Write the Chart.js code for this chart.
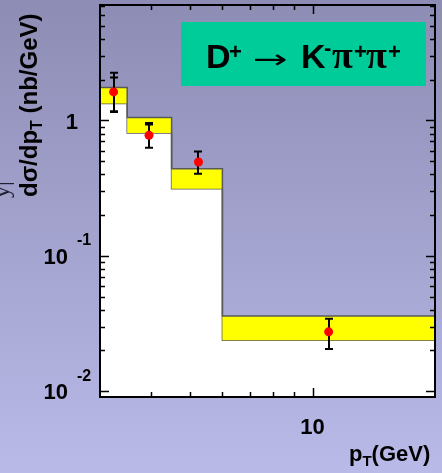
<!DOCTYPE html>
<html>
<head>
<meta charset="utf-8">
<script src="https://cdn.jsdelivr.net/npm/chart.js@4.4.0/dist/chart.umd.min.js"></script>
<style>
  html, body { margin: 0; padding: 0; }
  body { width: 442px; height: 473px; overflow: hidden; background: linear-gradient(#8c8cb4, #babae9); }
  canvas { display: block; }
</style>
</head>
<body>
<canvas id="chart" width="442" height="473"></canvas>
<script>
// pT bins (GeV) and theory band per bin (nb/GeV)
const binEdges = [3, 3.5, 4.5, 6, 20];
const theoryLow = [1.334, 0.808, 0.313, 0.0238];
const theoryHigh = [1.75, 1.05, 0.44, 0.036];

// measured points
const ptPoints = [3.24, 3.96, 5.24, 10.95];
const xsection = [1.626, 0.777, 0.493, 0.02745];
const statHigh = [2.08, 0.933, 0.591, 0.0343];
const statLow = [1.17, 0.63, 0.404, 0.0205];
const totHigh = [2.25, 0.958, 0.591, 0.0343];
const totLow = [1.156, 0.63, 0.404, 0.0205];

// axis labels
const yTickValues = [0.01, 0.1, 1];
const yTickBase = ['10', '10', '1'];
const yTickExp = ['-2', '-1', ''];
const xTickValues = [10];
const xTickLabels = ['10'];

const stepData = (vals) => binEdges.map((x, i) => ({ x, y: vals[Math.min(i, vals.length - 1)] }));

// draws text made of runs: [text, font, dy]
function drawRuns(ctx, runs, x, y) {
  runs.forEach(([text, font, dy]) => {
    ctx.font = font;
    ctx.fillText(text, x, y + (dy || 0));
    x += ctx.measureText(text).width;
  });
  return x;
}

const errorBars = {
  id: 'errorBars',
  beforeDatasetDraw(chart, args) {
    if (args.index !== 2) return;
    const { ctx, scales: { y } } = chart;
    ctx.save();
    ctx.strokeStyle = '#000';
    ctx.lineWidth = 2;
    args.meta.data.forEach((pt, i) => {
      const px = Math.round(pt.x);
      ctx.beginPath();
      ctx.moveTo(px, y.getPixelForValue(totHigh[i]));
      ctx.lineTo(px, y.getPixelForValue(totLow[i]));
      [totHigh[i], statHigh[i], statLow[i], totLow[i]].forEach((v) => {
        const py = y.getPixelForValue(v);
        ctx.moveTo(px - 4, py);
        ctx.lineTo(px + 4, py);
      });
      ctx.stroke();
    });
    ctx.restore();
  },
};

const frame = {
  id: 'frame',
  afterDraw(chart) {
    const { ctx, chartArea: a, scales: { x, y } } = chart;
    ctx.save();
    ctx.strokeStyle = '#000';
    ctx.lineWidth = 2;
    ctx.strokeRect(a.left, a.top, a.right - a.left, a.bottom - a.top);

    ctx.lineWidth = 1.5;
    ctx.beginPath();
    for (let k = -3; k <= 1; k++) {
      for (let m = 1; m <= 9; m++) {
        const v = m * Math.pow(10, k);
        if (v <= y.min || v >= y.max) continue;
        const py = Math.round(y.getPixelForValue(v)) + 0.5;
        const len = m === 1 ? 9 : 5;
        ctx.moveTo(a.left, py); ctx.lineTo(a.left + len, py);
        ctx.moveTo(a.right - len, py); ctx.lineTo(a.right, py);
      }
    }
    for (let k = 0; k <= 1; k++) {
      for (let m = 1; m <= 9; m++) {
        const v = m * Math.pow(10, k);
        if (v <= x.min || v >= x.max) continue;
        const px = Math.round(x.getPixelForValue(v)) + 0.5;
        const len = m === 1 ? 9 : 5;
        ctx.moveTo(px, a.bottom); ctx.lineTo(px, a.bottom - len);
        ctx.moveTo(px, a.top); ctx.lineTo(px, a.top + len);
      }
    }
    ctx.stroke();

    ctx.fillStyle = '#000';
    ctx.textBaseline = 'middle';
    yTickValues.forEach((v, i) => {
      const py = y.getPixelForValue(v);
      ctx.font = 'bold 22px Arial, "Liberation Sans", sans-serif';
      ctx.textAlign = 'right';
      ctx.fillText(yTickBase[i], yTickExp[i] ? 68 : 78, py + 2);
      if (yTickExp[i]) {
        ctx.font = 'bold 16px Arial, "Liberation Sans", sans-serif';
        ctx.textAlign = 'left';
        ctx.fillText(yTickExp[i], 77, py - 15);
      }
    });
    ctx.font = 'bold 22px Arial, "Liberation Sans", sans-serif';
    ctx.textAlign = 'center';
    xTickValues.forEach((v, i) => {
      ctx.fillText(xTickLabels[i], x.getPixelForValue(v), 428);
    });

    // x title
    ctx.textAlign = 'left';
    ctx.textBaseline = 'alphabetic';
    const big = 'bold 22px Arial, "Liberation Sans", sans-serif';
    const sub = 'bold 15px Arial, "Liberation Sans", sans-serif';
    drawRuns(ctx, [['p', big], ['T', sub, 5], ['(GeV)', big]], 349, 461);

    // y title, rotated
    ctx.save();
    ctx.translate(37, 197);
    ctx.rotate(-Math.PI / 2);
    drawRuns(ctx, [
      ['dσ/dp', 'bold 24px Arial, "Liberation Sans", sans-serif'],
      ['T', 'bold 16px Arial, "Liberation Sans", sans-serif', 5],
      [' (nb/GeV)', 'bold 24px Arial, "Liberation Sans", sans-serif'],
    ], 0, 0);
    ctx.restore();

    // partly hidden label at the far left
    ctx.save();
    ctx.fillStyle = '#202030';
    ctx.translate(9, 198);
    ctx.rotate(-Math.PI / 2);
    ctx.font = '24px "Liberation Serif", serif';
    ctx.fillText('y|', 0, 0);
    ctx.restore();

    // decay channel box
    ctx.fillStyle = '#00cc99';
    ctx.fillRect(181, 22, 245, 64);
    ctx.fillStyle = '#000';
    const f = 'bold 34px Arial, "Liberation Sans", sans-serif';
    const s = 'bold 22px Arial, "Liberation Sans", sans-serif';
    const g = 'bold 38px "Liberation Serif", serif';
    [
      ['D', f, 206, 68], ['+', s, 229, 59], ['K', f, 301, 68], ['-', s, 324, 55],
      ['\u03c0', g, 332, 68], ['+', s, 354, 59], ['\u03c0', g, 366, 68], ['+', s, 388, 59],
    ].forEach(([text, font, tx, ty]) => {
      ctx.font = font;
      ctx.fillText(text, tx, ty);
    });
    // long arrow, stretched to width
    ctx.font = '26px "DejaVu Sans", sans-serif';
    const aw = ctx.measureText('\u2192').width;
    ctx.save();
    ctx.translate(253, 68);
    ctx.scale(35 / aw, 1);
    ctx.fillText('\u2192', 0, 0);
    ctx.restore();
    ctx.restore();
  },
};

new Chart(document.getElementById('chart'), {
  type: 'scatter',
  data: {
    datasets: [
      {
        data: stepData(theoryLow),
        showLine: true,
        stepped: true,
        fill: 'start',
        backgroundColor: '#ffffff',
        borderColor: '#5a5a5a',
        borderWidth: 1.5,
        pointRadius: 0,
        order: 3,
      },
      {
        data: stepData(theoryHigh),
        showLine: true,
        stepped: true,
        fill: 0,
        backgroundColor: '#ffff00',
        borderColor: '#5a5a5a',
        borderWidth: 1.5,
        pointRadius: 0,
        order: 2,
      },
      {
        data: ptPoints.map((x, i) => ({ x, y: xsection[i] })),
        pointRadius: 4.5,
        pointBackgroundColor: '#ff0000',
        pointBorderWidth: 0,
        order: 1,
      },
    ],
  },
  options: {
    responsive: false,
    animation: false,
    devicePixelRatio: 1,
    layout: { padding: { left: 100, right: 7, top: 5, bottom: 76 } },
    plugins: { legend: { display: false }, tooltip: { enabled: false } },
    scales: {
      x: { type: 'logarithmic', min: 3, max: 20, display: false },
      y: { type: 'logarithmic', min: 0.00906, max: 7.13, display: false },
    },
  },
  plugins: [errorBars, frame],
});
</script>
</body>
</html>
